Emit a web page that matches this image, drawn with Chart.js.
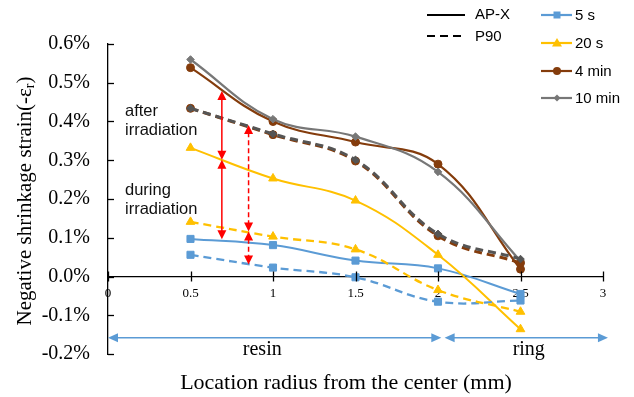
<!DOCTYPE html>
<html>
<head>
<meta charset="utf-8">
<script src="https://cdn.jsdelivr.net/npm/chart.js@4.4.0/dist/chart.umd.min.js"></script>
<style>
  body { margin: 0; background: #fff; }
</style>
</head>
<body>
<canvas id="shrinkChart" width="634" height="397"></canvas>
<script>
// location radius (mm)
const radius = [0.5, 1, 1.5, 2, 2.5];
const xTicks = [0, 0.5, 1, 1.5, 2, 2.5, 3];
const xTickLabels = ["0", "0.5", "1", "1.5", "2", "2.5", "3"];
const yTicks = [-0.2, -0.1, 0, 0.1, 0.2, 0.3, 0.4, 0.5, 0.6];
const yTickLabels = ["-0.2%", "-0.1%", "0.0%", "0.1%", "0.2%", "0.3%", "0.4%", "0.5%", "0.6%"];

// AP-X (solid lines), values in %
const apx5s = [0.097, 0.081, 0.041, 0.021, -0.045];
const apx20s = [0.332, 0.253, 0.196, 0.056, -0.136];
const apx4min = [0.539, 0.400, 0.347, 0.290, 0.019];
const apx10min = [0.560, 0.406, 0.361, 0.270, 0.040];

// P90 (dashed lines), values in %
const p90_5s = [0.056, 0.023, -0.002, -0.065, -0.062];
const p90_20s = [0.141, 0.103, 0.070, -0.035, -0.091];
const p90_4min = [0.434, 0.366, 0.298, 0.105, 0.035];
const p90_10min = [0.434, 0.368, 0.301, 0.110, 0.045];

// red arrows: x position and the y levels they join
const redSolidX = 0.69;
const redSolidLevels = [0.479, 0.301, 0.096];
const redDashX = 0.852;
const redDashLevels = [0.391, 0.116, 0.031];

// blue region arrows along the bottom
const regionNames = ["resin", "ring"];
const regionSpans = [[0, 2.02], [2.04, 3.03]];

const BLUE = "#5B9BD5", YELLOW = "#FFC000", BROWN = "#843C0C", GRAY = "#777777", DARKGRAY = "#555555";

function series(vals, color, shape, size, dashed, width) {
    return {
        data: radius.map((x, i) => ({ x: x, y: vals[i] })),
        borderColor: color,
        backgroundColor: color,
        borderWidth: width,
        borderDash: dashed ? [8, 5] : [],
        pointStyle: shape,
        pointRadius: size,
        pointBorderWidth: 1,
        tension: 0.4,
        fill: false
    };
}

function arrowHead(ctx, x, y, dir, len, half) {
    // dir: angle the head points to
    ctx.beginPath();
    ctx.moveTo(x, y);
    ctx.lineTo(x - len * Math.cos(dir) + half * Math.sin(dir), y - len * Math.sin(dir) - half * Math.cos(dir));
    ctx.lineTo(x - len * Math.cos(dir) - half * Math.sin(dir), y - len * Math.sin(dir) + half * Math.cos(dir));
    ctx.closePath();
    ctx.fill();
}

function doubleArrow(ctx, x1, y1, x2, y2, color, dashed, len, half) {
    const ang = Math.atan2(y2 - y1, x2 - x1);
    ctx.save();
    ctx.strokeStyle = color;
    ctx.fillStyle = color;
    ctx.lineWidth = 1.5;
    ctx.setLineDash(dashed ? [5, 3] : []);
    ctx.beginPath();
    ctx.moveTo(x1 + Math.cos(ang) * len * 0.8, y1 + Math.sin(ang) * len * 0.8);
    ctx.lineTo(x2 - Math.cos(ang) * len * 0.8, y2 - Math.sin(ang) * len * 0.8);
    ctx.stroke();
    ctx.setLineDash([]);
    arrowHead(ctx, x2, y2, ang, len, half);
    arrowHead(ctx, x1, y1, ang + Math.PI, len, half);
    ctx.restore();
}

function marker(ctx, shape, x, y, color) {
    ctx.fillStyle = color;
    ctx.beginPath();
    if (shape === "rect") ctx.rect(x - 3.5, y - 3.5, 7, 7);
    else if (shape === "triangle") { ctx.moveTo(x, y - 5); ctx.lineTo(x + 5, y + 3.5); ctx.lineTo(x - 5, y + 3.5); ctx.closePath(); }
    else if (shape === "circle") ctx.arc(x, y, 4, 0, Math.PI * 2);
    else { ctx.moveTo(x, y - 3.5); ctx.lineTo(x + 3.5, y); ctx.lineTo(x, y + 3.5); ctx.lineTo(x - 3.5, y); ctx.closePath(); }
    ctx.fill();
}

const extras = {
    id: "extras",
    afterDatasetsDraw(chart) {
        const { ctx, scales: { x, y } } = chart;
        const y0 = y.getPixelForValue(0);
        ctx.save();

        // inward tick marks
        ctx.strokeStyle = "#000";
        ctx.lineWidth = 1.3;
        yTicks.forEach(v => {
            const py = Math.round(y.getPixelForValue(v)) + 0.5;
            ctx.beginPath(); ctx.moveTo(x.left, py); ctx.lineTo(x.left + 6, py); ctx.stroke();
        });
        xTicks.forEach(v => {
            const px = Math.round(x.getPixelForValue(v)) + 0.5;
            ctx.beginPath(); ctx.moveTo(px, y0 - 5); ctx.lineTo(px, y0 + 5); ctx.stroke();
        });

        // red arrows
        const sx = x.getPixelForValue(redSolidX);
        for (let i = 0; i < redSolidLevels.length - 1; i++) {
            doubleArrow(ctx, sx, y.getPixelForValue(redSolidLevels[i]), sx, y.getPixelForValue(redSolidLevels[i + 1]), "#FF0000", false, 9, 4.5);
        }
        const dx = x.getPixelForValue(redDashX);
        for (let i = 0; i < redDashLevels.length - 1; i++) {
            doubleArrow(ctx, dx, y.getPixelForValue(redDashLevels[i]), dx, y.getPixelForValue(redDashLevels[i + 1]), "#FF0000", true, 9, 4.5);
        }

        // blue region arrows
        const ry = y.getPixelForValue(-0.158);
        regionSpans.forEach(s => {
            doubleArrow(ctx, x.getPixelForValue(s[0]), ry, x.getPixelForValue(s[1]), ry, BLUE, false, 10, 4.5);
        });

        // region names
        ctx.fillStyle = "#000";
        ctx.font = "20px 'Liberation Serif'";
        ctx.textAlign = "center";
        ctx.textBaseline = "middle";
        ctx.fillText(regionNames[0], x.getPixelForValue(0.935), 350);
        ctx.fillText(regionNames[1], x.getPixelForValue(2.55), 350);

        // annotations
        ctx.font = "16.5px 'Liberation Sans'";
        ctx.textAlign = "left";
        ctx.fillStyle = "#111";
        ctx.fillText("after", 125, 111);
        ctx.fillText("irradiation", 125, 130);
        ctx.fillText("during", 125, 190);
        ctx.fillText("irradiation", 125, 209);

        // axis titles
        ctx.fillStyle = "#000";
        ctx.font = "22px 'Liberation Serif'";
        ctx.textAlign = "center";
        ctx.fillText("Location radius from the center (mm)", 346, 383);

        ctx.save();
        ctx.translate(25, 201);
        ctx.rotate(-Math.PI / 2);
        const main = "Negative shrinkage strain(-\u03b5";
        ctx.font = "21px 'Liberation Serif'";
        const wMain = ctx.measureText(main).width;
        ctx.font = "14px 'Liberation Serif'";
        const wSub = ctx.measureText("r").width;
        ctx.font = "21px 'Liberation Serif'";
        const wEnd = ctx.measureText(")").width;
        let start = -(wMain + wSub + wEnd) / 2;
        ctx.textAlign = "left";
        ctx.fillText(main, start, 0);
        ctx.font = "14px 'Liberation Serif'";
        ctx.fillText("r", start + wMain, 5);
        ctx.font = "21px 'Liberation Serif'";
        ctx.fillText(")", start + wMain + wSub, 0);
        ctx.restore();

        // legend
        ctx.font = "15px 'Liberation Sans'";
        ctx.textAlign = "left";
        ctx.textBaseline = "middle";
        ctx.lineWidth = 2.2;
        ctx.strokeStyle = "#000";
        ctx.beginPath(); ctx.moveTo(427, 15); ctx.lineTo(465, 15); ctx.stroke();
        ctx.setLineDash([8, 5]);
        ctx.beginPath(); ctx.moveTo(427, 36); ctx.lineTo(465, 36); ctx.stroke();
        ctx.setLineDash([]);
        ctx.fillStyle = "#000";
        ctx.fillText("AP-X", 475, 15);
        ctx.fillText("P90", 475, 37);

        const items = [["5 s", BLUE, "rect", 15], ["20 s", YELLOW, "triangle", 43], ["4 min", BROWN, "circle", 71], ["10 min", GRAY, "diamond", 98]];
        items.forEach(it => {
            ctx.strokeStyle = it[1];
            ctx.beginPath(); ctx.moveTo(541, it[3]); ctx.lineTo(572, it[3]); ctx.stroke();
            marker(ctx, it[2], 557, it[3], it[1]);
            ctx.fillStyle = "#000";
            ctx.fillText(it[0], 575, it[3] + 1);
        });
        ctx.restore();
    }
};

new Chart(document.getElementById("shrinkChart"), {
    type: "line",
    data: {
        datasets: [
            series(p90_10min, DARKGRAY, "rectRot", 3.8, true, 3),
            series(p90_4min, BROWN, "circle", 4, true, 3),
            series(p90_20s, YELLOW, "triangle", 5, true, 2.3),
            series(p90_5s, BLUE, "rect", 5, true, 2.3),
            series(apx10min, GRAY, "rectRot", 3.8, false, 2.2),
            series(apx4min, BROWN, "circle", 4, false, 2.2),
            series(apx20s, YELLOW, "triangle", 5, false, 2),
            series(apx5s, BLUE, "rect", 5, false, 2)
        ]
    },
    options: {
        responsive: false,
        animation: false,
        layout: { padding: { left: 0, right: 31, top: 44, bottom: 43 } },
        plugins: { legend: { display: false }, tooltip: { enabled: false } },
        scales: {
            x: {
                type: "linear",
                min: 0,
                max: 3,
                position: { y: 0 },
                afterFit: s => { s.height = 0; },
                afterBuildTicks: s => { s.ticks = xTicks.map(v => ({ value: v })); },
                ticks: {
                    callback: (v, i) => xTickLabels[i],
                    font: { family: "'Liberation Serif'", size: 13 },
                    color: "#000",
                    padding: 9,
                    maxRotation: 0
                },
                grid: { drawOnChartArea: false, drawTicks: false },
                border: { color: "#000", width: 1.3 }
            },
            y: {
                min: -0.2,
                max: 0.6,
                afterFit: s => { s.width = 108; },
                afterBuildTicks: s => { s.ticks = yTicks.map(v => ({ value: v })); },
                ticks: {
                    callback: (v, i) => yTickLabels[i],
                    font: { family: "'Liberation Serif'", size: 20 },
                    color: "#000",
                    padding: 18
                },
                grid: { drawOnChartArea: false, drawTicks: false },
                border: { color: "#000", width: 1.3 }
            }
        }
    },
    plugins: [extras]
});
</script>
</body>
</html>
